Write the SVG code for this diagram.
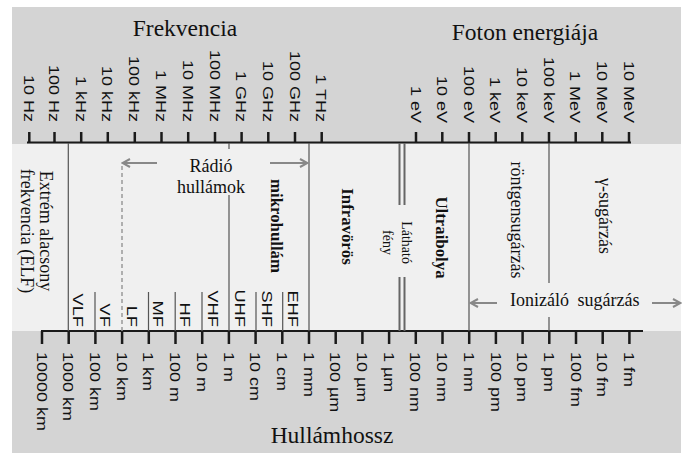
<svg xmlns="http://www.w3.org/2000/svg" width="696" height="463" viewBox="0 0 696 463">
<style>
.tk{font-family:"Liberation Sans",Arial,sans-serif;font-size:15px;fill:#111}
.sr{font-family:"Liberation Serif","Times New Roman",serif;fill:#111}
.t{font-size:23.5px}
.m{font-size:18px}
.b{font-size:16.8px;font-weight:bold}
.ax{stroke:#1a1a1a;fill:none}
.vl{stroke:#555;stroke-width:1.2;fill:none}
.ar{stroke:#888;stroke-width:2;fill:none}
</style>
<defs>
<marker id="ah" markerWidth="10" markerHeight="10" refX="8" refY="5" orient="auto" markerUnits="userSpaceOnUse">
<path d="M1,1 L8.5,5 L1,9" fill="none" stroke="#888" stroke-width="2"/>
</marker>
</defs>
<rect x="0" y="0" width="696" height="463" fill="#fff"/>
<rect x="12" y="7" width="669" height="446" fill="#d4d4d4"/>
<rect x="12" y="144" width="669" height="187" fill="#f0f0f0"/>

<g id="titles" class="sr t">
<text x="185" y="36" text-anchor="middle">Frekvencia</text>
<text x="525" y="40" text-anchor="middle">Foton energiája</text>
<text x="332" y="443" text-anchor="middle">Hullámhossz</text>
</g>

<g id="top-axis">
<path class="ax" stroke-width="2" d="M27 142.5H631"/>
<path class="ax" stroke-width="2.5" d="M29.3 132V143M54.5 132V143M81.2 132V143M107.8 132V143M134.8 132V143M161.5 132V143M188.2 132V143M215 132V143M241.6 132V143M268.3 132V143M295 132V143M321.7 132V143M416 132V143M442.3 132V143M469 132V143M495.7 132V143M522.3 132V143M549 132V143M575.7 132V143M602.3 132V143M629 132V143"/>
<g class="tk" text-anchor="end">
<text transform="translate(23.9,122) rotate(90) scale(1.2,1)">10 Hz</text>
<text transform="translate(49.1,122) rotate(90) scale(1.2,1)">100 Hz</text>
<text transform="translate(75.8,122) rotate(90) scale(1.2,1)">1 kHz</text>
<text transform="translate(102.4,122) rotate(90) scale(1.2,1)">10 kHz</text>
<text transform="translate(129.4,122) rotate(90) scale(1.2,1)">100 kHz</text>
<text transform="translate(156.1,122) rotate(90) scale(1.2,1)">1 MHz</text>
<text transform="translate(182.8,122) rotate(90) scale(1.2,1)">10 MHz</text>
<text transform="translate(209.6,122) rotate(90) scale(1.2,1)">100 MHz</text>
<text transform="translate(236.2,122) rotate(90) scale(1.2,1)">1 GHz</text>
<text transform="translate(262.9,122) rotate(90) scale(1.2,1)">10 GHz</text>
<text transform="translate(289.6,122) rotate(90) scale(1.2,1)">100 GHz</text>
<text transform="translate(316.3,122) rotate(90) scale(1.2,1)">1 THz</text>
<text transform="translate(410.6,123) rotate(90) scale(1.2,1)">1 eV</text>
<text transform="translate(436.9,123) rotate(90) scale(1.2,1)">10 eV</text>
<text transform="translate(463.6,123) rotate(90) scale(1.2,1)">100 eV</text>
<text transform="translate(490.3,123) rotate(90) scale(1.2,1)">1 keV</text>
<text transform="translate(516.9,123) rotate(90) scale(1.2,1)">10 keV</text>
<text transform="translate(543.6,123) rotate(90) scale(1.2,1)">100 keV</text>
<text transform="translate(570.3,123) rotate(90) scale(1.2,1)">1 MeV</text>
<text transform="translate(596.9,123) rotate(90) scale(1.2,1)">10 MeV</text>
<text transform="translate(623.6,123) rotate(90) scale(1.2,1)">10 MeV</text>
</g>
</g>

<g id="bottom-axis">
<path class="ax" stroke-width="2" d="M41 331H643"/>
<path class="ax" stroke-width="2.5" d="M42 331V344M68.7 331V344M95.4 331V344M122.1 331V344M148.8 331V344M175.5 331V344M202.2 331V344M228.9 331V344M255.6 331V344M282.3 331V344M309 331V344M335.7 331V344M362.4 331V344M389.1 331V344M415.8 331V344M442.5 331V344M469.2 331V344M495.9 331V344M522.6 331V344M549.3 331V344M576 331V344M602.7 331V344M629.4 331V344"/>
<g class="tk">
<text transform="translate(36.6,352) rotate(90) scale(1.2,1)">10000 km</text>
<text transform="translate(63.3,352) rotate(90) scale(1.2,1)">1000 km</text>
<text transform="translate(90,352) rotate(90) scale(1.2,1)">100 km</text>
<text transform="translate(116.7,352) rotate(90) scale(1.2,1)">10 km</text>
<text transform="translate(143.4,352) rotate(90) scale(1.2,1)">1 km</text>
<text transform="translate(170.1,352) rotate(90) scale(1.2,1)">100 m</text>
<text transform="translate(196.8,352) rotate(90) scale(1.2,1)">10 m</text>
<text transform="translate(223.5,352) rotate(90) scale(1.2,1)">1 m</text>
<text transform="translate(250.2,352) rotate(90) scale(1.2,1)">10 cm</text>
<text transform="translate(276.9,352) rotate(90) scale(1.2,1)">1 cm</text>
<text transform="translate(303.6,352) rotate(90) scale(1.2,1)">1 mm</text>
<text transform="translate(330.3,352) rotate(90) scale(1.2,1)">100 µm</text>
<text transform="translate(357,352) rotate(90) scale(1.2,1)">10 µm</text>
<text transform="translate(383.7,352) rotate(90) scale(1.2,1)">1 µm</text>
<text transform="translate(410.4,352) rotate(90) scale(1.2,1)">100 nm</text>
<text transform="translate(437.1,352) rotate(90) scale(1.2,1)">10 nm</text>
<text transform="translate(463.8,352) rotate(90) scale(1.2,1)">1 nm</text>
<text transform="translate(490.5,352) rotate(90) scale(1.2,1)">100 pm</text>
<text transform="translate(517.2,352) rotate(90) scale(1.2,1)">10 pm</text>
<text transform="translate(543.9,352) rotate(90) scale(1.2,1)">1 pm</text>
<text transform="translate(570.6,352) rotate(90) scale(1.2,1)">100 fm</text>
<text transform="translate(597.3,352) rotate(90) scale(1.2,1)">10 fm</text>
<text transform="translate(624,352) rotate(90) scale(1.2,1)">1 fm</text>
</g>
</g>

<g id="connectors">
<path class="vl" d="M68.3 143V331M309 143V331M469 143V331M229 143V149M229 195V331M549 143V283M549 317V331"/>
<path class="vl" d="M95 292V331M148.5 292V331M175.2 292V331M202 292V331M256 292V331M282.7 292V331"/>
<path d="M122 166V331" stroke="#999" stroke-width="1.5" stroke-dasharray="4 3" fill="none"/>
<path d="M399.5 143V205M399.5 277V331M404.5 143V205M404.5 277V331" stroke="#666" stroke-width="2" fill="none"/>
<path class="ar" d="M157 163H123" marker-end="url(#ah)"/>
<path class="ar" d="M270 163H307" marker-end="url(#ah)"/>
<path class="ar" d="M497 303H471" marker-end="url(#ah)"/>
<path class="ar" d="M652 303H680" marker-end="url(#ah)"/>
</g>

<g id="elf" class="sr m" text-anchor="middle">
<text transform="translate(40,231) rotate(90)">Extrém alacsony</text>
<text transform="translate(21,231) rotate(90)">frekvencia (ELF)</text>
</g>
<g id="radio" class="sr m" text-anchor="middle">
<text x="211" y="172">Rádió</text>
<text x="211" y="193">hullámok</text>
</g>
<g id="bands" class="tk" text-anchor="end">
<text transform="translate(72.8,327) rotate(90) scale(1.22,1)">VLF</text>
<text transform="translate(99.8,327) rotate(90) scale(1.22,1)">VF</text>
<text transform="translate(126.6,327) rotate(90) scale(1.22,1)">LF</text>
<text transform="translate(153,327) rotate(90) scale(1.22,1)">MF</text>
<text transform="translate(179.8,327) rotate(90) scale(1.22,1)">HF</text>
<text transform="translate(207.6,327) rotate(90) scale(1.22,1)">VHF</text>
<text transform="translate(234.6,327) rotate(90) scale(1.22,1)">UHF</text>
<text transform="translate(261.6,327) rotate(90) scale(1.22,1)">SHF</text>
<text transform="translate(287.8,327) rotate(90) scale(1.22,1)">EHF</text>
</g>
<g id="mikro" class="sr b" text-anchor="middle">
<text transform="translate(270.5,226) rotate(90)">mikrohullám</text>
</g>
<g id="infra" class="sr b" text-anchor="middle">
<text transform="translate(342,226.5) rotate(90)">Infravörös</text>
</g>
<g id="visible" class="sr" font-size="14" text-anchor="middle">
<text transform="translate(401.5,242.5) rotate(90)">Látható</text>
<text transform="translate(383,242.5) rotate(90)">fény</text>
</g>
<g id="uv" class="sr b" text-anchor="middle">
<text transform="translate(435.5,237.5) rotate(90)">Ultraibolya</text>
</g>
<g id="xray" class="sr m" text-anchor="middle">
<text transform="translate(511,220) rotate(90)">röntgensugárzás</text>
</g>
<g id="gamma" class="sr m" text-anchor="middle">
<text transform="translate(599,216) rotate(90)">γ-sugárzás</text>
</g>
<g id="ionizing" class="sr m">
<text x="510" y="306" word-spacing="4">Ionizáló sugárzás</text>
</g>
</svg>
